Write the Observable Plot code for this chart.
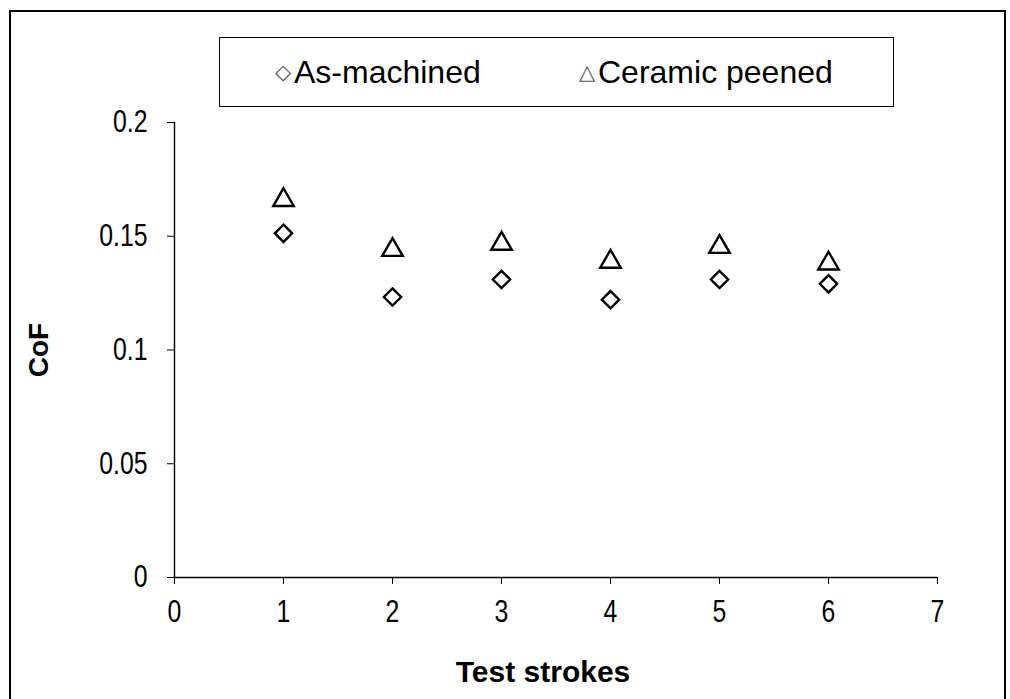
<!DOCTYPE html>
<html>
<head>
<meta charset="utf-8">
<script src="https://cdn.jsdelivr.net/npm/d3@7"></script>
<script src="https://cdn.jsdelivr.net/npm/@observablehq/plot@0.6"></script>
<style>
  body { margin: 0; background: #fff; font-family: "Liberation Sans", Arial, sans-serif; }
  #wrap { position: relative; width: 1010px; height: 699px; overflow: hidden; }
  #border { position: absolute; left: 9px; top: 10px; width: 997px; height: 720px; border: 2px solid #000; box-sizing: border-box; }
  #legend { position: absolute; left: 219px; top: 37px; width: 675px; height: 70px; border: 1.5px solid #000; box-sizing: border-box; background: #fff; color: #000; }
  #legend .txt { position: absolute; top: 0; height: 100%; display: flex; align-items: center; font-size: 32px; white-space: nowrap; }
  #legend .sym { position: absolute; top: 0; height: 100%; display: flex; align-items: center; color: #555; font-size: 21px; font-family: "DejaVu Sans", sans-serif; transform: translateX(-50%); }
  #chart { position: absolute; left: 0; top: 0; }
</style>
</head>
<body>
<div id="wrap">
  <div id="border"></div>
  <div id="chart"></div>
  <div id="legend"></div>
</div>
<script>
const strokes = [1, 2, 3, 4, 5, 6];
const asMachined = [0.1513, 0.1233, 0.1310, 0.1221, 0.1310, 0.1291];
const ceramicPeened = [0.1672, 0.1453, 0.1480, 0.1401, 0.1466, 0.1393];
const seriesNames = ["As-machined", "Ceramic peened"];
const seriesSymbols = ["◇", "△"];
const xTicks = [0, 1, 2, 3, 4, 5, 6, 7];
const yTicks = [0, 0.05, 0.1, 0.15, 0.2];
const xTitle = "Test strokes";
const yTitle = "CoF";

const dataA = strokes.map((s, i) => ({stroke: s, cof: asMachined[i]}));
const dataC = strokes.map((s, i) => ({stroke: s, cof: ceramicPeened[i]}));

const font = "'Liberation Sans', Arial, sans-serif";

const plot = Plot.plot({
  width: 1010,
  height: 699,
  marginLeft: 174,
  marginRight: 73,
  marginTop: 122,
  marginBottom: 122,
  style: {fontFamily: font, background: "transparent", color: "#000"},
  x: {domain: [0, 7]},
  y: {domain: [0, 0.2]},
  marks: [
    Plot.axisX({ticks: xTicks, tickSize: 7, tickPadding: 15, fontSize: 31, label: null, tickFormat: d => String(d)}),
    Plot.axisY({ticks: yTicks, tickSize: 7, tickPadding: 20, fontSize: 31, label: null, tickFormat: d => String(d)}),
    Plot.ruleX([0], {stroke: "#000", strokeWidth: 1.4}),
    Plot.ruleY([0], {stroke: "#000", strokeWidth: 1.4}),
    Plot.dot(dataA, {x: "stroke", y: "cof", symbol: "diamond2", r: 7.8, stroke: "#000", strokeWidth: 2.4, fill: "none"}),
    Plot.dot(dataC, {x: "stroke", y: "cof", symbol: "triangle2", r: 9.8, dy: 3, stroke: "#000", strokeWidth: 2.4, fill: "none"}),
    Plot.text([xTitle], {frameAnchor: "bottom", textAnchor: "middle", lineAnchor: "middle", dx: -13, dy: 95, fontSize: 30, fontWeight: "bold", fill: "#000", ariaLabel: "xtitle"}),
    Plot.text([yTitle], {frameAnchor: "left", textAnchor: "middle", lineAnchor: "middle", dx: -135, rotate: -90, fontSize: 28, fontWeight: "bold", fill: "#000", ariaLabel: "ytitle"})
  ]
});
document.getElementById("chart").appendChild(plot);

// Narrow the glyphs (the original uses a condensed Arial-like face)
const condenseBy = {
  "x-axis tick label": 0.8,
  "y-axis tick label": 0.8,
  "xtitle": 0.9,
  "ytitle": 0.72
};
plot.querySelectorAll("text").forEach(el => {
  const g = el.closest("g[aria-label]");
  if (!g) return;
  const k = condenseBy[g.getAttribute("aria-label")];
  if (!k) return;
  const L = el.getComputedTextLength();
  el.setAttribute("textLength", (L * k).toFixed(2));
  el.setAttribute("lengthAdjust", "spacingAndGlyphs");
});

const legend = document.getElementById("legend");
const symCenter = [63, 367];
const textLeft = [74, 378];
seriesNames.forEach((name, i) => {
  const s = document.createElement("div");
  s.className = "sym";
  s.style.left = symCenter[i] + "px";
  s.textContent = seriesSymbols[i];
  legend.appendChild(s);
  const t = document.createElement("div");
  t.className = "txt";
  t.style.left = textLeft[i] + "px";
  t.textContent = name;
  legend.appendChild(t);
});
</script>
</body>
</html>
